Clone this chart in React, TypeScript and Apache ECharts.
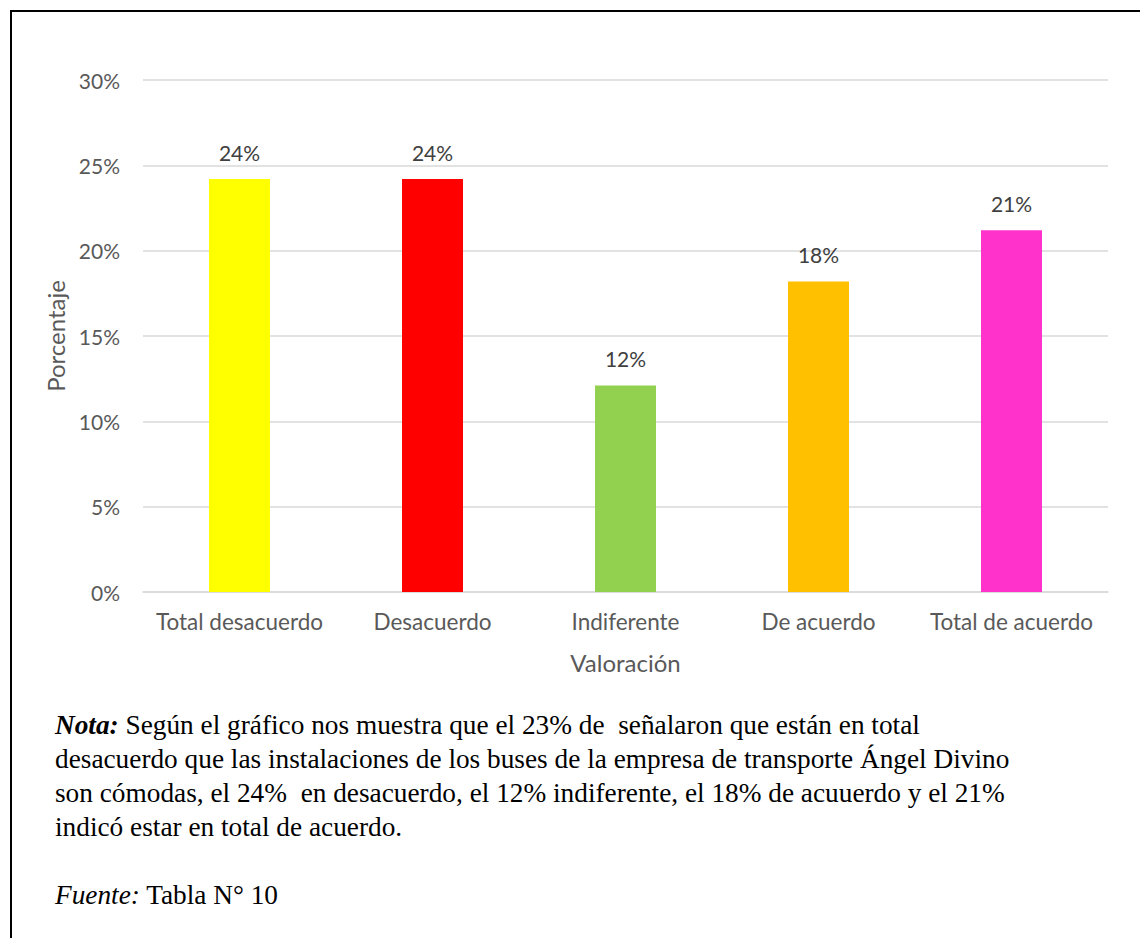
import React, { useEffect, useRef } from "react";
import * as echarts from "echarts";

// Survey answers: share of respondents per rating
const categories = [
  "Total desacuerdo",
  "Desacuerdo",
  "Indiferente",
  "De acuerdo",
  "Total de acuerdo",
];
const shares = [0.242, 0.242, 0.121, 0.182, 0.212];
const barColors = ["#FFFF00", "#FF0000", "#92D050", "#FFC000", "#FF33CC"];

const noteLines = [
  "{b|Nota:} Según el gráfico nos muestra que el 23% de  señalaron que están en total",
  "desacuerdo que las instalaciones de los buses de la empresa de transporte Ángel Divino",
  "son cómodas, el 24%  en desacuerdo, el 12% indiferente, el 18% de acuuerdo y el 21%",
  "indicó estar en total de acuerdo.",
];
const sourceLine = "{i|Fuente:} Tabla N° 10";

const W = 1140;
const H = 938;
const SANS = "Lato, 'Open Sans', sans-serif";
const SERIF = "'Liberation Serif', 'Times New Roman', serif";
const GREY_TEXT = "#595959";
const SERIF_SIZE = 27.3;

export default function App() {
  const ref = useRef<HTMLDivElement>(null);

  useEffect(() => {
    if (!ref.current) return;
    const chart = echarts.init(ref.current, undefined, { renderer: "svg" });

    const serifRich = {
      b: { fontFamily: SERIF, fontSize: SERIF_SIZE, fontWeight: "bold", fontStyle: "italic", fill: "#000" },
      i: { fontFamily: SERIF, fontSize: SERIF_SIZE, fontStyle: "italic", fill: "#000" },
    };

    const lineTops = [711, 745, 779, 813];
    const textLines: any[] = noteLines.map((t, k) => ({
      type: "text",
      left: 55,
      top: lineTops[k],
      style: {
        text: t,
        font: `${SERIF_SIZE}px ${SERIF}`,
        fill: "#000",
        rich: serifRich,
      },
    }));
    textLines.push({
      type: "text",
      left: 55,
      top: 881,
      style: { text: sourceLine, font: `${SERIF_SIZE}px ${SERIF}`, fill: "#000", rich: serifRich },
    });

    chart.setOption({
      animation: false,
      backgroundColor: "#fff",
      grid: { left: 143, right: 32, top: 80, bottom: 346, containLabel: false },
      xAxis: {
        type: "category",
        data: categories,
        axisLine: { show: true, lineStyle: { color: "#d9d9d9", width: 1.5 } },
        axisTick: { show: false },
        axisLabel: { color: GREY_TEXT, fontFamily: SANS, fontSize: 22.5, margin: 18, interval: 0 },
        name: "Valoración",
        nameLocation: "middle",
        nameGap: 58,
        nameTextStyle: { color: GREY_TEXT, fontFamily: SANS, fontSize: 24 },
      },
      yAxis: {
        type: "value",
        min: 0,
        max: 0.3,
        interval: 0.05,
        axisLine: { show: false },
        axisTick: { show: false },
        splitLine: { lineStyle: { color: "#d9d9d9", width: 1.5 } },
        axisLabel: {
          color: GREY_TEXT,
          fontFamily: SANS,
          fontSize: 21,
          margin: 23,
          formatter: (v: number) => `${Math.round(v * 100)}%`,
        },
        name: "Porcentaje",
        nameLocation: "middle",
        nameGap: 74,
        nameRotate: 90,
        nameTextStyle: { color: GREY_TEXT, fontFamily: SANS, fontSize: 24 },
      },
      series: [
        {
          type: "bar",
          barWidth: 61,
          data: shares.map((v, k) => ({ value: v, itemStyle: { color: barColors[k] } })),
          label: {
            show: true,
            position: "top",
            distance: 16,
            color: "#404040",
            fontFamily: SANS,
            fontSize: 21,
            formatter: (p: any) => `${Math.round(p.value * 100)}%`,
          },
        },
      ],
      graphic: [
        {
          type: "polyline",
          shape: { points: [[11, H + 5], [11, 11], [W + 5, 11]] },
          style: { stroke: "#000", lineWidth: 2, fill: "none" },
        },
        ...textLines,
      ],
    });

    return () => chart.dispose();
  }, []);

  return (
    <div
      ref={ref}
      style={{ position: "absolute", left: 0, top: 0, width: W, height: H }}
    />
  );
}
